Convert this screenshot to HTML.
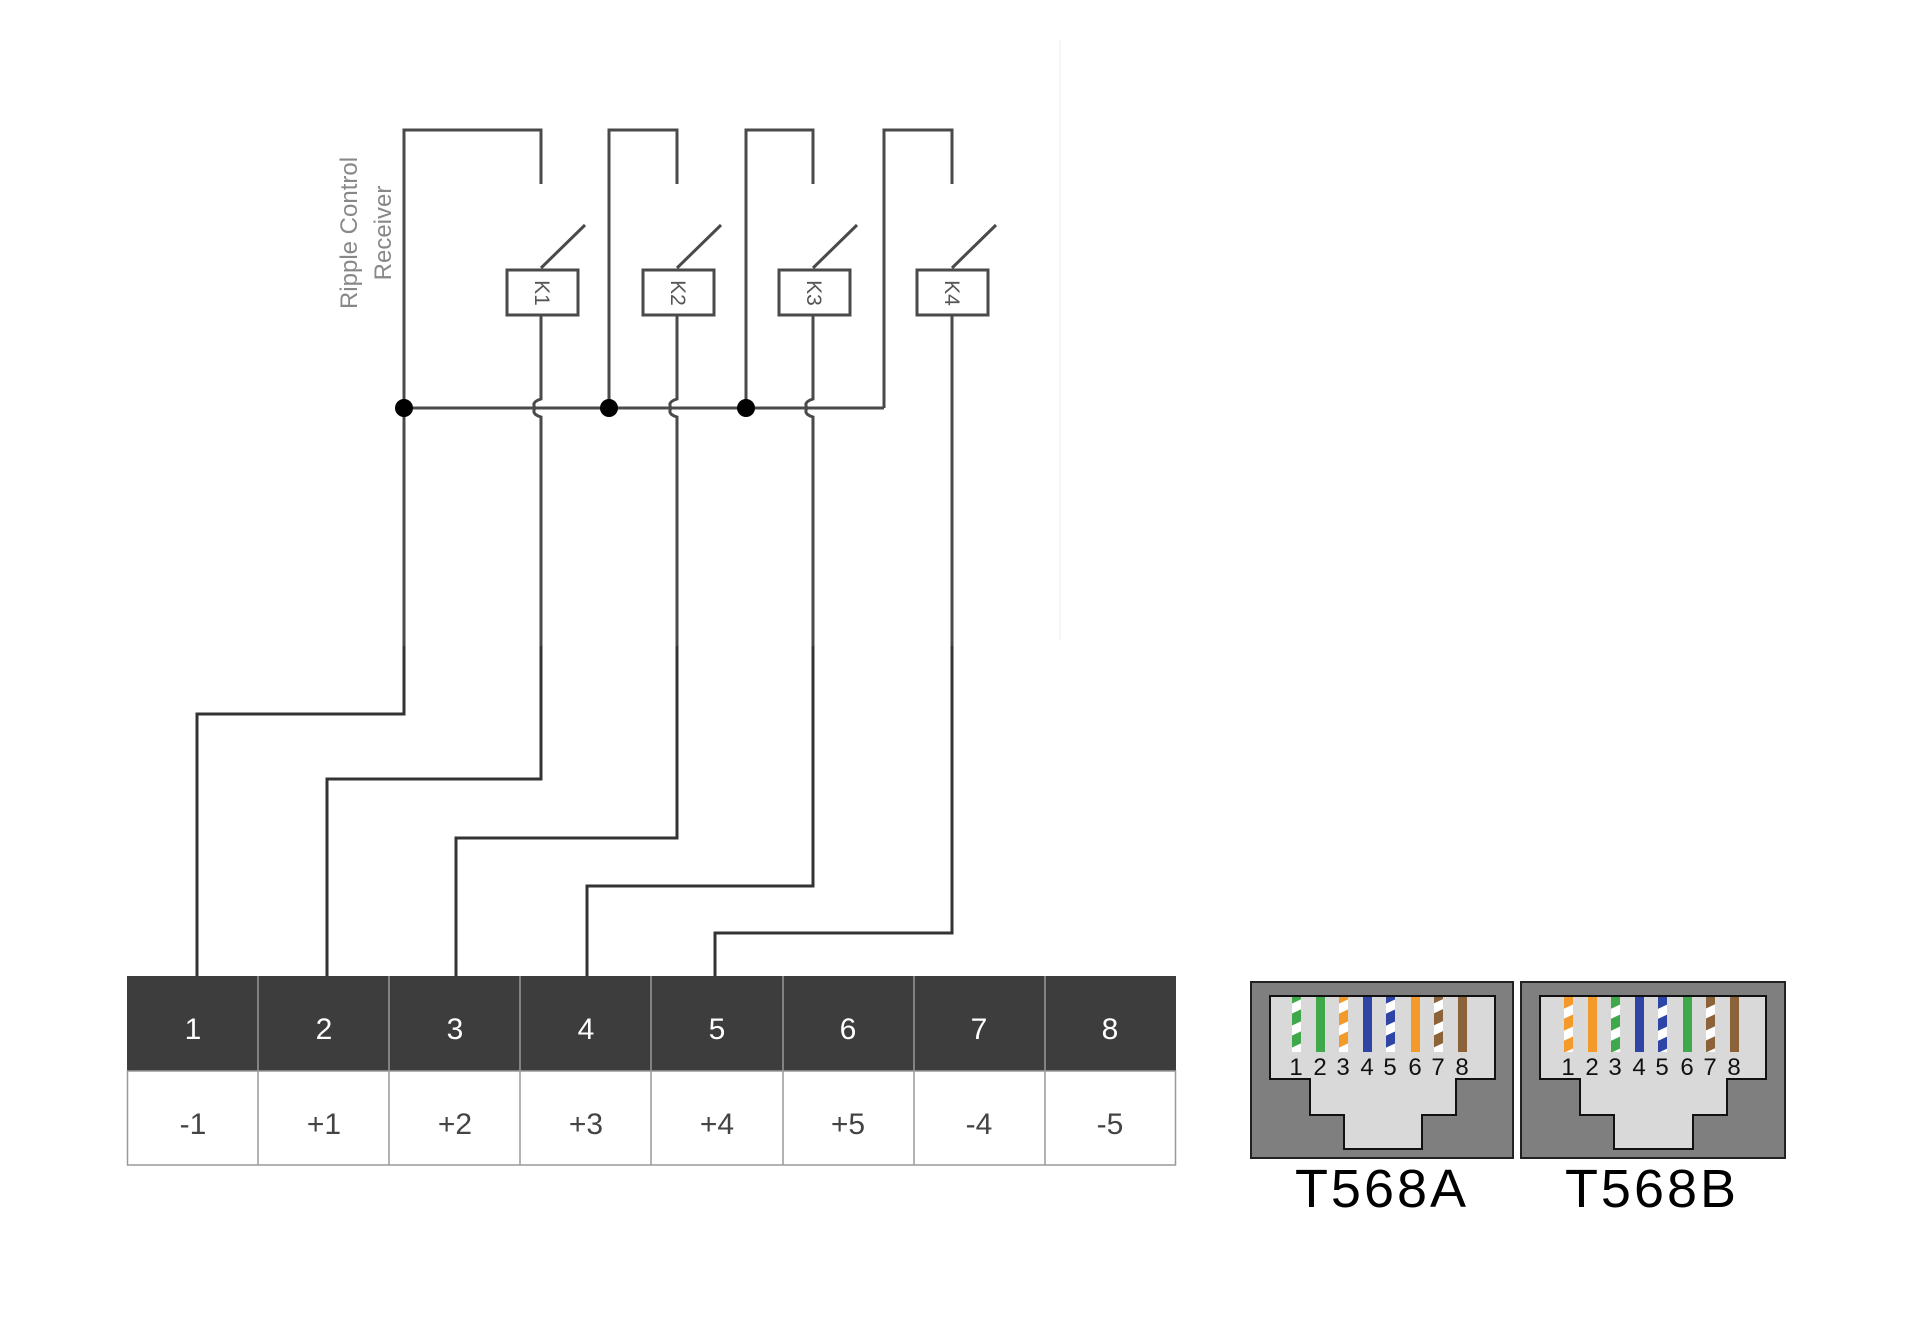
<!DOCTYPE html>
<html><head><meta charset="utf-8"><style>
html,body{margin:0;padding:0;background:#fff;}
svg{display:block;}
</style></head><body>
<svg width="1920" height="1324" viewBox="0 0 1920 1324" xmlns="http://www.w3.org/2000/svg" font-family="Liberation Sans, sans-serif">
<rect width="1920" height="1324" fill="#fff"/>
<line x1="1060" y1="40" x2="1060" y2="640" stroke="#f6f6f6" stroke-width="2"/>
<!-- top schematic -->
<g fill="none" stroke="#4a4a4a" stroke-width="3">
  <polyline points="404,646 404,130 541,130 541,184"/>
  <polyline points="609,408 609,130 677,130 677,184"/>
  <polyline points="746,408 746,130 813,130 813,184"/>
  <polyline points="884,408 884,130 952,130 952,184"/>
  <line x1="404" y1="408" x2="884" y2="408"/>
  <rect x="507" y="270" width="71" height="45"/>
  <rect x="643" y="270" width="71" height="45"/>
  <rect x="779" y="270" width="71" height="45"/>
  <rect x="917" y="270" width="71" height="45"/>
  <line x1="541" y1="268" x2="585" y2="225"/>
  <line x1="677" y1="268" x2="721" y2="225"/>
  <line x1="813" y1="268" x2="857" y2="225"/>
  <line x1="952" y1="268" x2="996" y2="225"/>
  <path d="M541,315 V399 Q531,402 535,408 Q531,414 541,417 V646"/>
  <path d="M677,315 V399 Q667,402 671,408 Q667,414 677,417 V646"/>
  <path d="M813,315 V399 Q803,402 807,408 Q803,414 813,417 V646"/>
  <line x1="952" y1="315" x2="952" y2="646"/>
</g>
<g fill="#000">
  <circle cx="404" cy="408" r="9"/>
  <circle cx="609" cy="408" r="9"/>
  <circle cx="746" cy="408" r="9"/>
</g>
<g font-size="21" fill="#555" text-anchor="middle">
  <text transform="translate(542,293) rotate(90)" dy="7">K1</text>
  <text transform="translate(678,293) rotate(90)" dy="7">K2</text>
  <text transform="translate(814,293) rotate(90)" dy="7">K3</text>
  <text transform="translate(952,293) rotate(90)" dy="7">K4</text>
</g>
<g font-size="24" fill="#888" text-anchor="middle">
  <text transform="translate(357,233) rotate(-90)">Ripple Control</text>
  <text transform="translate(391,233) rotate(-90)">Receiver</text>
</g>
<!-- lower wiring -->
<g fill="none" stroke="#333" stroke-width="3">
  <polyline points="404,646 404,714 197,714 197,976"/>
  <polyline points="541,646 541,779 327,779 327,976"/>
  <polyline points="677,646 677,838 456,838 456,976"/>
  <polyline points="813,646 813,886 587,886 587,976"/>
  <polyline points="952,646 952,933 715,933 715,976"/>
</g>
<!-- table -->
<rect x="127" y="976" width="1049" height="95" fill="#3d3d3d"/>
<rect x="127.5" y="1071" width="1048" height="94" fill="#fff" stroke="#999" stroke-width="1.5"/>
<g stroke="#999" stroke-width="1.5">
  <line x1="258" y1="976" x2="258" y2="1165"/>
  <line x1="389" y1="976" x2="389" y2="1165"/>
  <line x1="520" y1="976" x2="520" y2="1165"/>
  <line x1="651" y1="976" x2="651" y2="1165"/>
  <line x1="783" y1="976" x2="783" y2="1165"/>
  <line x1="914" y1="976" x2="914" y2="1165"/>
  <line x1="1045" y1="976" x2="1045" y2="1165"/>
</g>
<g font-size="30" fill="#fff" text-anchor="middle">
  <text x="193" y="1039">1</text><text x="324" y="1039">2</text><text x="455" y="1039">3</text><text x="586" y="1039">4</text>
  <text x="717" y="1039">5</text><text x="848" y="1039">6</text><text x="979" y="1039">7</text><text x="1110" y="1039">8</text>
</g>
<g font-size="30" fill="#444" text-anchor="middle">
  <text x="193" y="1134">-1</text><text x="324" y="1134">+1</text><text x="455" y="1134">+2</text><text x="586" y="1134">+3</text>
  <text x="717" y="1134">+4</text><text x="848" y="1134">+5</text><text x="979" y="1134">-4</text><text x="1110" y="1134">-5</text>
</g>
<!-- RJ45 -->
<defs>
  <pattern id="st" width="10" height="22" patternUnits="userSpaceOnUse" patternTransform="skewY(-25)">
    <rect y="0" width="10" height="10" fill="#fff"/>
  </pattern>
</defs>
<rect x="1251" y="982" width="262" height="176" fill="#7f7f7f" stroke="#222" stroke-width="2"/>
<path d="M1270,996 H1495 V1079 H1456 V1115 H1422 V1149 H1344 V1115 H1310 V1079 H1270 Z" fill="#d9d9d9" stroke="#111" stroke-width="2"/>
<rect x="1521" y="982" width="264" height="176" fill="#7f7f7f" stroke="#222" stroke-width="2"/>
<path d="M1540,996 H1766 V1079 H1727 V1115 H1693 V1149 H1614 V1115 H1580 V1079 H1540 Z" fill="#d9d9d9" stroke="#111" stroke-width="2"/>
<g>
  <rect x="1292" y="997" width="9" height="55" fill="#3fa84a"/><rect x="1292" y="997" width="9" height="55" fill="url(#st)"/>
  <rect x="1316" y="997" width="9" height="55" fill="#3fa84a"/>
  <rect x="1339" y="997" width="9" height="55" fill="#f39a2a"/><rect x="1339" y="997" width="9" height="55" fill="url(#st)"/>
  <rect x="1363" y="997" width="9" height="55" fill="#2f45a5"/>
  <rect x="1386" y="997" width="9" height="55" fill="#2f45a5"/><rect x="1386" y="997" width="9" height="55" fill="url(#st)"/>
  <rect x="1411" y="997" width="9" height="55" fill="#f39a2a"/>
  <rect x="1434" y="997" width="9" height="55" fill="#8b6239"/><rect x="1434" y="997" width="9" height="55" fill="url(#st)"/>
  <rect x="1458" y="997" width="9" height="55" fill="#8b6239"/>
</g>
<g>
  <rect x="1564" y="997" width="9" height="55" fill="#f39a2a"/><rect x="1564" y="997" width="9" height="55" fill="url(#st)"/>
  <rect x="1588" y="997" width="9" height="55" fill="#f39a2a"/>
  <rect x="1611" y="997" width="9" height="55" fill="#3fa84a"/><rect x="1611" y="997" width="9" height="55" fill="url(#st)"/>
  <rect x="1635" y="997" width="9" height="55" fill="#2f45a5"/>
  <rect x="1658" y="997" width="9" height="55" fill="#2f45a5"/><rect x="1658" y="997" width="9" height="55" fill="url(#st)"/>
  <rect x="1683" y="997" width="9" height="55" fill="#3fa84a"/>
  <rect x="1706" y="997" width="9" height="55" fill="#8b6239"/><rect x="1706" y="997" width="9" height="55" fill="url(#st)"/>
  <rect x="1730" y="997" width="9" height="55" fill="#8b6239"/>
</g>
<g font-size="24" fill="#111" text-anchor="middle">
  <text x="1296" y="1075">1</text><text x="1320" y="1075">2</text><text x="1343" y="1075">3</text><text x="1367" y="1075">4</text>
  <text x="1390" y="1075">5</text><text x="1415" y="1075">6</text><text x="1438" y="1075">7</text><text x="1462" y="1075">8</text>
  <text x="1568" y="1075">1</text><text x="1592" y="1075">2</text><text x="1615" y="1075">3</text><text x="1639" y="1075">4</text>
  <text x="1662" y="1075">5</text><text x="1687" y="1075">6</text><text x="1710" y="1075">7</text><text x="1734" y="1075">8</text>
</g>
<g font-size="54" fill="#000" text-anchor="middle" letter-spacing="3">
  <text x="1382" y="1207">T568A</text>
  <text x="1652" y="1207">T568B</text>
</g>
</svg>
</body></html>
